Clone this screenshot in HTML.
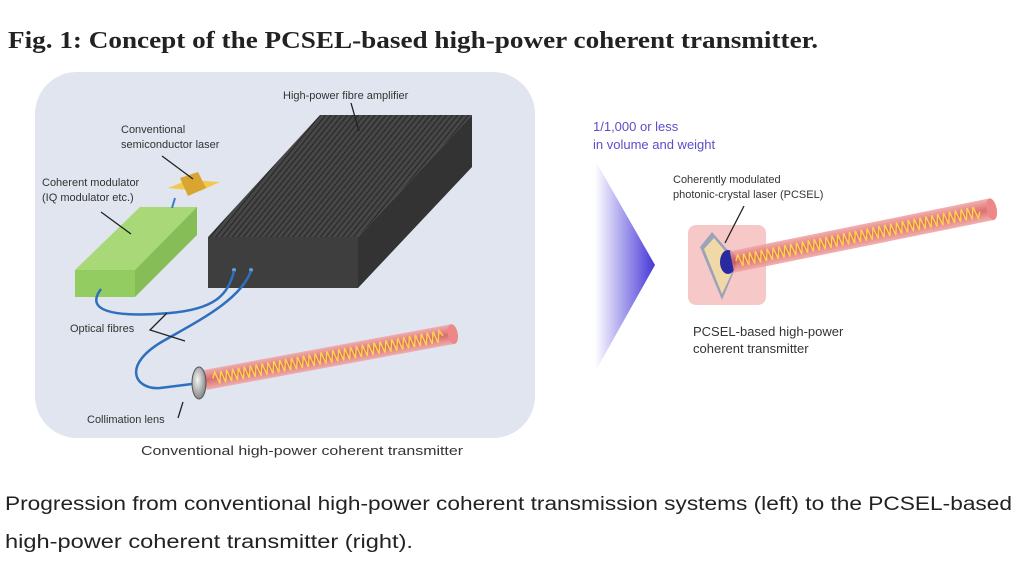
<!DOCTYPE html>
<html><head><meta charset="utf-8"><style>
html,body{margin:0;padding:0;background:#fff;}
svg{display:block;}
</style></head><body>
<svg width="1024" height="561" viewBox="0 0 1024 561" xmlns="http://www.w3.org/2000/svg">
<defs>
<linearGradient id="arr" x1="0" x2="1" y1="0" y2="0">
<stop offset="0" stop-color="#ffffff"/><stop offset="1" stop-color="#4636d8"/>
</linearGradient>
<linearGradient id="beam" x1="0" x2="0" y1="0" y2="1">
<stop offset="0" stop-color="#f2a8a8"/><stop offset="0.5" stop-color="#d9605e"/><stop offset="1" stop-color="#f2a8a8"/>
</linearGradient>
<radialGradient id="lens" cx="0.4" cy="0.4" r="0.7">
<stop offset="0" stop-color="#f4f4f4"/><stop offset="1" stop-color="#777"/>
</radialGradient>
<pattern id="fins" width="5.5" height="10" patternUnits="userSpaceOnUse" patternTransform="skewX(-39)">
<rect width="5.5" height="10" fill="#474747"/><rect width="1.6" height="10" fill="#2a2a2a"/>
</pattern>
</defs>

<text x="8" y="48" font-family="Liberation Serif, serif" font-weight="bold" font-size="24" fill="#222" textLength="810" lengthAdjust="spacingAndGlyphs">Fig. 1: Concept of the PCSEL-based high-power coherent transmitter.</text>

<!-- left panel -->
<rect x="35" y="72" width="500" height="366" rx="42" fill="#e0e5ef"/>

<!-- heatsink -->
<polygon points="320,115 472,115 358,237 208,237" fill="url(#fins)"/>
<polygon points="472,115 472,167 358,288 358,237" fill="#333"/>
<rect x="208" y="237" width="150" height="51" fill="#3e3e3e"/>
<circle cx="234" cy="270" r="2" fill="#6a9ad0"/><circle cx="251" cy="270" r="2" fill="#6a9ad0"/>

<!-- green modulator -->
<polygon points="140,207 197,207 135,270 75,270" fill="#a8d878"/>
<polygon points="197,207 197,235 135,297 135,270" fill="#86bd56"/>
<rect x="75" y="270" width="60" height="27" fill="#93cc60"/>

<!-- laser chip -->
<polygon points="168,188 188,180 220,182 200,191" fill="#f2c94c"/>
<polygon points="180,178 198,172 206,188 188,196" fill="#d8a432"/>
<line x1="175" y1="198" x2="172" y2="208" stroke="#3a7cc4" stroke-width="2"/>

<!-- fibres -->
<g fill="none" stroke="#2f6fbf" stroke-width="2.5">
<path d="M101,289 C85,310 110,318 170,313 C215,309 228,295 234,271"/>
<path d="M251,271 C240,300 200,320 165,340 C120,365 135,390 160,388 L192,384"/>
</g>

<!-- beam left -->
<g transform="translate(205,380) rotate(-10.5)">
<rect x="0" y="-10" width="252" height="20" fill="url(#beam)" opacity="0.9"/>
<ellipse cx="252" cy="0" rx="5" ry="10" fill="#e88"/>
<polyline fill="none" stroke="#ffd84a" stroke-width="1.3" points="8,0 11,-6 14,6 17,-6 20,6 23,-6 26,6 29,-6 32,6 35,-6 38,6 41,-6 44,6 47,-6 50,6 53,-6 56,6 59,-6 62,6 65,-6 68,6 71,-6 74,6 77,-6 80,6 83,-6 86,6 89,-6 92,6 95,-6 98,6 101,-6 104,6 107,-6 110,6 113,-6 116,6 119,-6 122,6 125,-6 128,6 131,-6 134,6 137,-6 140,6 143,-6 146,6 149,-6 152,6 155,-6 158,6 161,-6 164,6 167,-6 170,6 173,-6 176,6 179,-6 182,6 185,-6 188,6 191,-6 194,6 197,-6 200,6 203,-6 206,6 209,-6 212,6 215,-6 218,6 221,-6 224,6 227,-6 230,6 233,-6 236,6 239,-6 242,0"/>
</g>
<ellipse cx="199" cy="383" rx="7" ry="16" fill="url(#lens)" stroke="#555" stroke-width="1"/>

<!-- leader lines -->
<g stroke="#222" stroke-width="1.3" fill="none">
<line x1="351" y1="103" x2="359" y2="131"/>
<line x1="162" y1="156" x2="193" y2="179"/>
<line x1="101" y1="212" x2="131" y2="234"/>
<polyline points="167,313 150,330 185,341"/>
<line x1="183" y1="402" x2="178" y2="418"/>
</g>

<g font-family="Liberation Sans, sans-serif" font-size="11" fill="#333">
<text x="283" y="99">High-power fibre amplifier</text>
<text x="121" y="133">Conventional</text>
<text x="121" y="148">semiconductor laser</text>
<text x="42" y="186">Coherent modulator</text>
<text x="42" y="201">(IQ modulator etc.)</text>
<text x="70" y="332">Optical fibres</text>
<text x="87" y="423">Collimation lens</text>
<text x="673" y="183">Coherently modulated</text>
<text x="673" y="198">photonic-crystal laser (PCSEL)</text>
</g>
<text x="141" y="455" font-family="Liberation Sans, sans-serif" font-size="13" fill="#333" textLength="322" lengthAdjust="spacingAndGlyphs">Conventional high-power coherent transmitter</text>

<!-- right side -->
<polygon points="595,160 655,265 595,372" fill="url(#arr)"/>
<g font-family="Liberation Sans, sans-serif" font-size="13" fill="#5b4fc9">
<text x="593" y="131">1/1,000 or less</text>
<text x="593" y="149">in volume and weight</text>
</g>
<rect x="688" y="225" width="78" height="80" rx="8" fill="#f6c9c8"/>
<polygon points="700,247 712,232 738,262 722,300" fill="#9aa3b8"/>
<polygon points="704,249 714,238 736,264 722,294" fill="#f0d9a6"/>
<ellipse cx="728" cy="262" rx="8" ry="12" fill="#2a2aa0"/>
<g transform="translate(732,262) rotate(-11.5)">
<rect x="0" y="-11" width="265" height="22" fill="url(#beam)" opacity="0.9"/>
<ellipse cx="265" cy="0" rx="5" ry="11" fill="#e88"/>
<polyline fill="none" stroke="#ffd84a" stroke-width="1.3" points="4,0 7,-6 10,6 13,-6 16,6 19,-6 22,6 25,-6 28,6 31,-6 34,6 37,-6 40,6 43,-6 46,6 49,-6 52,6 55,-6 58,6 61,-6 64,6 67,-6 70,6 73,-6 76,6 79,-6 82,6 85,-6 88,6 91,-6 94,6 97,-6 100,6 103,-6 106,6 109,-6 112,6 115,-6 118,6 121,-6 124,6 127,-6 130,6 133,-6 136,6 139,-6 142,6 145,-6 148,6 151,-6 154,6 157,-6 160,6 163,-6 166,6 169,-6 172,6 175,-6 178,6 181,-6 184,6 187,-6 190,6 193,-6 196,6 199,-6 202,6 205,-6 208,6 211,-6 214,6 217,-6 220,6 223,-6 226,6 229,-6 232,6 235,-6 238,6 241,-6 244,6 247,-6 250,6 253,0"/>
</g>
<line x1="744" y1="206" x2="725" y2="243" stroke="#222" stroke-width="1.3"/>
<g font-family="Liberation Sans, sans-serif" font-size="13" fill="#333">
<text x="693" y="336">PCSEL-based high-power</text>
<text x="693" y="353">coherent transmitter</text>
</g>

<g font-family="Liberation Sans, sans-serif" font-size="19" fill="#222">
<text x="5" y="510" textLength="1007" lengthAdjust="spacingAndGlyphs">Progression from conventional high-power coherent transmission systems (left) to the PCSEL-based</text>
<text x="5" y="548" textLength="408" lengthAdjust="spacingAndGlyphs">high-power coherent transmitter (right).</text>
</g>
</svg>
</body></html>
